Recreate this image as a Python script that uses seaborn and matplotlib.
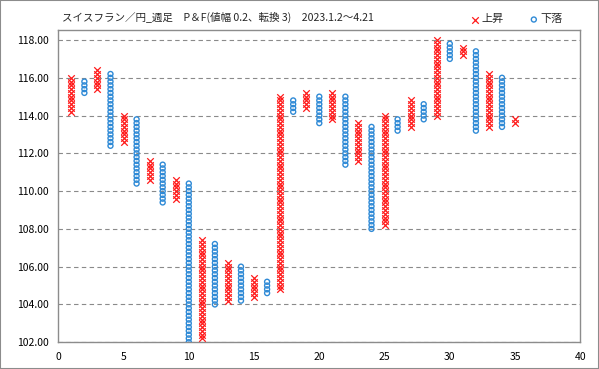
import numpy as np
import pandas as pd
import seaborn as sns
import matplotlib.pyplot as plt
from matplotlib.patches import Rectangle

# P&F columns (index, type, low box, high box)
col_no = list(range(1, 36))
col_type = ["X", "O"] * 17 + ["X"]
col_low = [114.2, 115.2, 115.4, 112.4, 112.6, 110.4, 110.6, 109.4, 109.6, 102.0,
           102.2, 104.0, 104.2, 104.2, 104.4, 104.6, 104.8, 114.2, 114.4, 113.6,
           113.8, 111.4, 111.6, 108.0, 108.2, 113.2, 113.4, 113.8, 114.0, 117.0,
           117.2, 113.2, 113.4, 113.4, 113.6]
col_high = [116.0, 115.8, 116.4, 116.2, 114.0, 113.8, 111.6, 111.4, 110.6, 110.4,
            107.4, 107.2, 106.2, 106.0, 105.4, 105.2, 115.0, 114.8, 115.2, 115.0,
            115.2, 115.0, 113.6, 113.4, 114.0, 113.8, 114.8, 114.6, 118.0, 117.8,
            117.6, 117.4, 116.2, 116.0, 113.8]
box_size = 0.2

title = "スイスフラン／円_週足　P＆F(値幅 0.2、転換 3)　2023.1.2〜4.21"

# expand each column into its boxes
rows = []
for n, t, lo, hi in zip(col_no, col_type, col_low, col_high):
    for v in np.arange(lo, hi + box_size / 2, box_size):
        rows.append({"col": n, "type": t, "price": round(v, 1)})
df = pd.DataFrame(rows)

sns.set_style("white")
plt.rcParams["font.family"] = ["Noto Sans CJK JP", "DejaVu Sans"]

fig = plt.figure(figsize=(5.99, 3.69), dpi=100)
ax = fig.add_axes([0.0973, 0.0726, 0.8715, 0.8461])

up = df[df["type"] == "X"]
down = df[df["type"] == "O"]
sns.scatterplot(data=up, x="col", y="price", marker="x", color="#ff1a1a",
                s=22, linewidth=0.9, ax=ax, label="上昇", zorder=3)
sns.scatterplot(data=down, x="col", y="price", marker="o", facecolor="none",
                edgecolor="#2f8ad6", s=13, linewidth=1.0, ax=ax, label="下落",
                zorder=3)

ax.set_xlim(0, 40)
ax.set_ylim(102, 118.53)
ax.set_xticks(range(0, 41, 5))
ax.set_yticks(np.arange(102, 118.1, 2))
ax.set_yticklabels([f"{v:.2f}" for v in np.arange(102, 118.1, 2)])
ax.set_xlabel("")
ax.set_ylabel("")
ax.yaxis.grid(True, linestyle=(0, (4, 3)), color="#8a8a8a", linewidth=0.8)
ax.set_axisbelow(True)
for s in ax.spines.values():
    s.set_color("#8c8c8c")
    s.set_linewidth(1)
ax.tick_params(axis="both", direction="out", length=4, width=1,
               color="#8c8c8c", labelsize=7.5, labelcolor="black", pad=3)

ax.legend(loc="lower right", bbox_to_anchor=(0.977, 1.0), ncol=2, frameon=False,
          fontsize=8, handlelength=0.6, handletextpad=0.3, columnspacing=2.4,
          borderaxespad=0.1)

fig.text(0.1035, 0.954, title, fontsize=7.6, va="center", ha="left")
fig.patches.append(Rectangle((0, 0), 1, 1, transform=fig.transFigure, fill=False,
                             edgecolor="#8c8c8c", linewidth=1.5))

plt.savefig("out.png", dpi=100)
